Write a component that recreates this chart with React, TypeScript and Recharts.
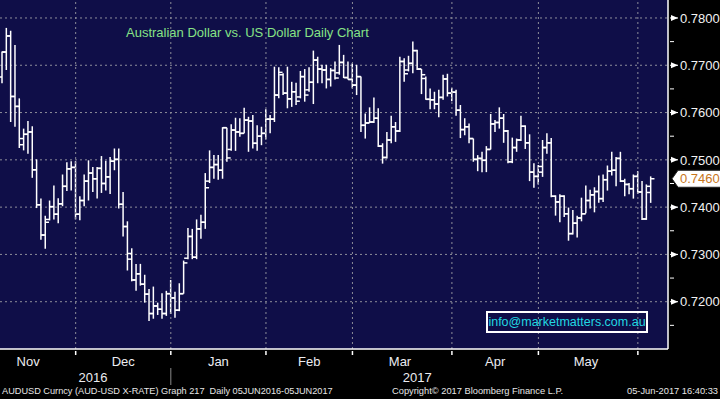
import React from 'react';
import { ComposedChart, Bar, XAxis, YAxis, CartesianGrid, ReferenceLine } from 'recharts';

// AUDUSD daily bars, Nov 2016 - Jun 2017
const opens = [
  0.7675, 0.7728, 0.7762, 0.7634, 0.7613, 0.7532, 0.7554, 0.7559, 0.7479, 0.7405,
  0.7341, 0.7374, 0.7401, 0.7385, 0.7407, 0.7444, 0.7481, 0.7484, 0.7385, 0.7414,
  0.7455, 0.7472, 0.746, 0.7482, 0.745, 0.7464, 0.7497, 0.7501, 0.7406, 0.7359,
  0.729, 0.7246, 0.7259, 0.7237, 0.7216, 0.7175, 0.7191, 0.7184, 0.7175, 0.7217,
  0.7208, 0.7182, 0.7217, 0.7292, 0.7338, 0.7294, 0.7354, 0.7368, 0.7455, 0.7484,
  0.749, 0.7478, 0.7568, 0.7522, 0.7563, 0.7559, 0.7556, 0.7584, 0.7582, 0.7535,
  0.755, 0.7556, 0.7586, 0.7586, 0.7637, 0.768, 0.7641, 0.7629, 0.7644, 0.7633,
  0.7676, 0.7648, 0.7664, 0.7711, 0.7692, 0.769, 0.767, 0.7689, 0.7684, 0.7706,
  0.7674, 0.767, 0.7658, 0.7676, 0.7573, 0.7578, 0.758, 0.7588, 0.7529, 0.7505,
  0.7542, 0.757, 0.7561, 0.7708, 0.769, 0.7704, 0.7731, 0.7692, 0.7672, 0.7628,
  0.7627, 0.7618, 0.7632, 0.7671, 0.7641, 0.7643, 0.7605, 0.7564, 0.757, 0.7545,
  0.7501, 0.7503, 0.7499, 0.7522, 0.7576, 0.7579, 0.7588, 0.7561, 0.7496, 0.7526,
  0.7542, 0.7571, 0.7536, 0.7474, 0.7465, 0.7474, 0.7526, 0.7536, 0.7423, 0.7411,
  0.7423, 0.7386, 0.7344, 0.7366, 0.7377, 0.7386, 0.7414, 0.7426, 0.7433, 0.7418,
  0.7458, 0.7476, 0.7478, 0.7503, 0.7455, 0.7448, 0.7439, 0.7465, 0.7432, 0.7375,
  0.7431,
];
const highs = [
  0.7729, 0.7779, 0.7773, 0.7743, 0.763, 0.7566, 0.7582, 0.7571, 0.7501, 0.7418,
  0.7382, 0.7414, 0.7446, 0.7419, 0.7469, 0.7495, 0.7497, 0.7497, 0.7423, 0.7469,
  0.7499, 0.7485, 0.7485, 0.7508, 0.7498, 0.7506, 0.7524, 0.7524, 0.7432, 0.737,
  0.7313, 0.728, 0.728, 0.7257, 0.7227, 0.7232, 0.7198, 0.7218, 0.7223, 0.7246,
  0.7221, 0.7239, 0.7287, 0.7356, 0.7354, 0.7374, 0.7384, 0.7472, 0.752, 0.751,
  0.751, 0.7569, 0.7568, 0.7575, 0.7589, 0.7588, 0.761, 0.7591, 0.7595, 0.7573,
  0.757, 0.7607, 0.7595, 0.7697, 0.7696, 0.7683, 0.7697, 0.7665, 0.7663, 0.7688,
  0.7692, 0.7696, 0.7731, 0.7718, 0.7701, 0.7701, 0.7694, 0.7708, 0.7743, 0.7722,
  0.7708, 0.7704, 0.7701, 0.7676, 0.7598, 0.7611, 0.7632, 0.7609, 0.7535, 0.7559,
  0.7593, 0.758, 0.7718, 0.7715, 0.772, 0.775, 0.7733, 0.7692, 0.7676, 0.7651,
  0.7644, 0.7648, 0.768, 0.7682, 0.7652, 0.7648, 0.7616, 0.7588, 0.7577, 0.7545,
  0.751, 0.7517, 0.7529, 0.7597, 0.7584, 0.7611, 0.7597, 0.7563, 0.7547, 0.7545,
  0.7593, 0.7573, 0.7554, 0.7493, 0.7489, 0.7542, 0.7556, 0.7546, 0.7425, 0.7427,
  0.7425, 0.7399, 0.7394, 0.7382, 0.742, 0.7446, 0.7437, 0.7442, 0.7467, 0.7469,
  0.7488, 0.7517, 0.7506, 0.7517, 0.746, 0.7451, 0.7469, 0.7476, 0.7455, 0.7448,
  0.7465,
];
const lows = [
  0.7662, 0.769, 0.758, 0.757, 0.7525, 0.752, 0.7513, 0.7462, 0.7398, 0.7331,
  0.7312, 0.7372, 0.7374, 0.7366, 0.7402, 0.7434, 0.7435, 0.7374, 0.7372, 0.7402,
  0.7414, 0.7432, 0.7418, 0.743, 0.7435, 0.7428, 0.7478, 0.7397, 0.7338, 0.7266,
  0.7243, 0.7223, 0.7234, 0.7198, 0.7159, 0.7164, 0.7172, 0.7164, 0.717, 0.7174,
  0.7166, 0.718, 0.7217, 0.729, 0.729, 0.729, 0.7333, 0.7354, 0.7451, 0.746,
  0.7458, 0.746, 0.7496, 0.7519, 0.7519, 0.7549, 0.7556, 0.7517, 0.7524, 0.7519,
  0.7531, 0.7543, 0.7556, 0.758, 0.763, 0.7637, 0.7609, 0.7612, 0.7616, 0.763,
  0.7623, 0.7644, 0.7618, 0.7662, 0.7662, 0.7651, 0.7655, 0.767, 0.768, 0.7673,
  0.767, 0.7651, 0.7637, 0.7559, 0.7545, 0.7578, 0.7578, 0.7527, 0.7492, 0.7503,
  0.7535, 0.7538, 0.7559, 0.7665, 0.7687, 0.7683, 0.769, 0.7639, 0.7627, 0.7607,
  0.7607, 0.759, 0.7627, 0.7634, 0.7624, 0.7593, 0.7546, 0.7552, 0.7535, 0.7496,
  0.7476, 0.7474, 0.7474, 0.7522, 0.7559, 0.7566, 0.7536, 0.7493, 0.7493, 0.7517,
  0.754, 0.7523, 0.7455, 0.7441, 0.7448, 0.7464, 0.7513, 0.7421, 0.7382, 0.7368,
  0.7379, 0.7329, 0.7342, 0.7336, 0.737, 0.7387, 0.7397, 0.7389, 0.7409, 0.7411,
  0.7435, 0.7467, 0.7444, 0.7453, 0.7423, 0.7427, 0.7418, 0.7428, 0.7373, 0.7373,
  0.7409,
];
const closes = [
  0.7728, 0.7762, 0.7634, 0.7613, 0.7545, 0.7554, 0.7559, 0.7479, 0.7405, 0.7341,
  0.7368, 0.7401, 0.7385, 0.7407, 0.7444, 0.7481, 0.7484, 0.7385, 0.7414, 0.7455,
  0.7472, 0.746, 0.7482, 0.745, 0.7464, 0.7497, 0.7501, 0.7406, 0.7359, 0.7302,
  0.7246, 0.7259, 0.7237, 0.7216, 0.7175, 0.7191, 0.7184, 0.7175, 0.7217, 0.7208,
  0.7182, 0.7217, 0.7282, 0.7338, 0.7294, 0.7354, 0.7368, 0.7441, 0.7484, 0.749,
  0.7478, 0.7568, 0.7504, 0.7563, 0.7559, 0.7556, 0.7584, 0.7582, 0.7535, 0.755,
  0.7556, 0.7586, 0.7586, 0.7637, 0.7685, 0.7641, 0.7629, 0.7644, 0.7624, 0.7676,
  0.7637, 0.7664, 0.7711, 0.7692, 0.769, 0.767, 0.7689, 0.7673, 0.7706, 0.7674,
  0.767, 0.7658, 0.7676, 0.7573, 0.7578, 0.758, 0.7588, 0.7529, 0.7505, 0.7542,
  0.757, 0.7561, 0.7708, 0.7682, 0.7704, 0.7731, 0.7692, 0.768, 0.7628, 0.7627,
  0.7618, 0.7632, 0.7671, 0.7641, 0.7643, 0.7605, 0.7564, 0.757, 0.7545, 0.7501,
  0.7503, 0.7499, 0.7522, 0.7576, 0.7579, 0.7588, 0.7561, 0.7496, 0.7526, 0.7542,
  0.7571, 0.7536, 0.7474, 0.7465, 0.7486, 0.7526, 0.7536, 0.7423, 0.7411, 0.7423,
  0.7386, 0.7344, 0.7366, 0.7377, 0.7386, 0.7414, 0.7426, 0.7433, 0.7418, 0.7458,
  0.7476, 0.7478, 0.7503, 0.7455, 0.7448, 0.7439, 0.7465, 0.7432, 0.7375, 0.7444,
  0.746,
];

// first bar of each month (bar index) and where the month names sit
const monthStarts = [17, 39, 61, 81, 104, 124, 147];
const monthNames = ['Nov', 'Dec', 'Jan', 'Feb', 'Mar', 'Apr', 'May'];
const monthLabelAt = [6, 28, 50, 71, 92, 114, 135];
const yearNames = ['2016', '2017'];
const yearLabelAt = [21, 96];
const yearSplit = 39;

const majorTicks = [0.72, 0.73, 0.74, 0.75, 0.76, 0.77, 0.78];
const minorTicks = [0.715, 0.725, 0.735, 0.745, 0.755, 0.765, 0.775];
const lastPrice = 0.746;

const rows = closes.map((c, i) => ({
  i,
  open: opens[i],
  high: highs[i],
  low: lows[i],
  close: c,
  range: [lows[i], highs[i]],
}));

const FONT = '"Liberation Sans", Arial, sans-serif';
const NAVY = '#0f0e48';
const GRID = '#8e8e9a';

function OhlcBar(props: any) {
  const { x, y, width, height, payload } = props;
  if (!payload) return null;
  const top = Math.min(y, y + height);
  const h = Math.abs(height);
  const span = payload.high - payload.low;
  const at = (v: number) => (span ? top + ((payload.high - v) / span) * h : top);
  const cx = x + width / 2;
  const t = 3.8;
  return (
    <g stroke="#ffffff" strokeWidth={1.5}>
      <line x1={cx} x2={cx} y1={top} y2={top + h} />
      <line x1={cx - t} x2={cx} y1={at(payload.open)} y2={at(payload.open)} />
      <line x1={cx} x2={cx + t} y1={at(payload.close)} y2={at(payload.close)} />
    </g>
  );
}

function XTick(props: any) {
  const { x, y, payload } = props;
  const v = payload.value;
  const out: React.ReactNode[] = [];
  if (monthStarts.includes(v)) {
    out.push(<line key="t" x1={x} x2={x} y1={y} y2={y + 4} stroke="#ffffff" strokeWidth={1.5} />);
  }
  if (v === yearSplit) {
    out.push(<line key="s" x1={x} x2={x} y1={y + 17} y2={y + 34} stroke="#8a8a8a" strokeWidth={1} />);
  }
  const mi = monthLabelAt.indexOf(v);
  if (mi >= 0) {
    out.push(
      <text key="m" x={x} y={y + 15} textAnchor="middle" fill="#ececf0" fontSize={13} fontFamily={FONT}>
        {monthNames[mi]}
      </text>
    );
  }
  const yi = yearLabelAt.indexOf(v);
  if (yi >= 0) {
    out.push(
      <text key="y" x={x} y={y + 31} textAnchor="middle" fill="#ececf0" fontSize={13} fontFamily={FONT}>
        {yearNames[yi]}
      </text>
    );
  }
  return <g>{out}</g>;
}

function YTick(props: any) {
  const { x, y, payload } = props;
  const v = payload.value;
  if (v === lastPrice) {
    return (
      <g>
        <polygon
          points={`${x + 2},${y} ${x + 8},${y - 8.5} ${x + 51},${y - 8.5} ${x + 51},${y + 8.5} ${x + 8},${y + 8.5}`}
          fill="#ffffff"
          stroke="#202020"
          strokeWidth={1}
        />
        <text x={x + 10} y={y} dy="0.36em" fill="#c8761c" fontSize={13} fontFamily={FONT}>
          {lastPrice.toFixed(4)}
        </text>
      </g>
    );
  }
  if (majorTicks.includes(v)) {
    return (
      <g>
        <polygon points={`${x + 1},${y - 3} ${x + 8},${y} ${x + 1},${y + 3}`} fill="#ffffff" />
        <line x1={x} x2={x + 8} y1={y} y2={y} stroke="#ffffff" strokeWidth={1} />
        <text x={x + 10} y={y} dy="0.36em" fill="#f2f2f2" fontSize={13} fontFamily={FONT}>
          {v.toFixed(4)}
        </text>
      </g>
    );
  }
  return <line x1={x} x2={x + 4} y1={y} y2={y} stroke="#ffffff" strokeWidth={1} />;
}

export default function App() {
  const xTicks = [...monthStarts, ...monthLabelAt, ...yearLabelAt].sort((a, b) => a - b);
  const yTicks = [...minorTicks, ...majorTicks, lastPrice].sort((a, b) => a - b);
  return (
    <div
      style={{
        position: 'absolute',
        left: 0,
        top: 0,
        width: 720,
        height: 399,
        background: '#000000',
        fontFamily: FONT,
        overflow: 'hidden',
      }}
    >
      <ComposedChart
        width={720}
        height={399}
        data={rows}
        margin={{ top: 0, right: 0, bottom: 0, left: 0 }}
        barCategoryGap={0}
      >
        <CartesianGrid
          fill={NAVY}
          vertical={false}
          horizontalValues={majorTicks}
          stroke={GRID}
          strokeDasharray="2 3"
        />
        <XAxis
          dataKey="i"
          type="category"
          ticks={xTicks}
          interval={0}
          tickSize={0}
          tickLine={false}
          axisLine={{ stroke: '#ffffff', strokeWidth: 1.5 }}
          height={50}
          padding={{ left: 0, right: 15 }}
          tick={<XTick />}
        />
        <YAxis
          orientation="right"
          width={52}
          type="number"
          domain={[0.71, 0.7838]}
          allowDataOverflow
          ticks={yTicks}
          interval={0}
          tickSize={0}
          tickLine={false}
          axisLine={{ stroke: '#ffffff', strokeWidth: 1.5 }}
          tick={<YTick />}
        />
        {monthStarts.map((m) => (
          <ReferenceLine key={m} x={m} stroke={GRID} strokeDasharray="2 3" />
        ))}
        <Bar dataKey="range" shape={<OhlcBar />} isAnimationActive={false} />
      </ComposedChart>

      <div
        style={{
          position: 'absolute',
          left: 126,
          top: 25,
          color: '#86e286',
          fontSize: 13,
          whiteSpace: 'nowrap',
        }}
      >
        Australian Dollar vs. US Dollar Daily Chart
      </div>

      <div
        style={{
          position: 'absolute',
          left: 486,
          top: 311,
          width: 162,
          height: 22,
          boxSizing: 'border-box',
          border: '2px solid #ffffff',
          color: '#22d8e2',
          fontSize: 12.5,
          display: 'flex',
          alignItems: 'center',
          justifyContent: 'center',
          whiteSpace: 'nowrap',
        }}
      >
        info@marketmatters.com.au
      </div>

      <div style={{ position: 'absolute', left: 2, top: 386, color: '#e6e6e6', fontSize: 9.2, whiteSpace: 'pre' }}>
        {'AUDUSD Curncy (AUD-USD X-RATE) Graph 217  Daily 05JUN2016-05JUN2017'}
      </div>
      <div style={{ position: 'absolute', left: 392, top: 386, color: '#e6e6e6', fontSize: 9.3, whiteSpace: 'pre' }}>
        Copyright© 2017 Bloomberg Finance L.P.
      </div>
      <div style={{ position: 'absolute', right: 2, top: 386, color: '#e6e6e6', fontSize: 9.3, whiteSpace: 'pre' }}>
        05-Jun-2017 16:40:33
      </div>
    </div>
  );
}
